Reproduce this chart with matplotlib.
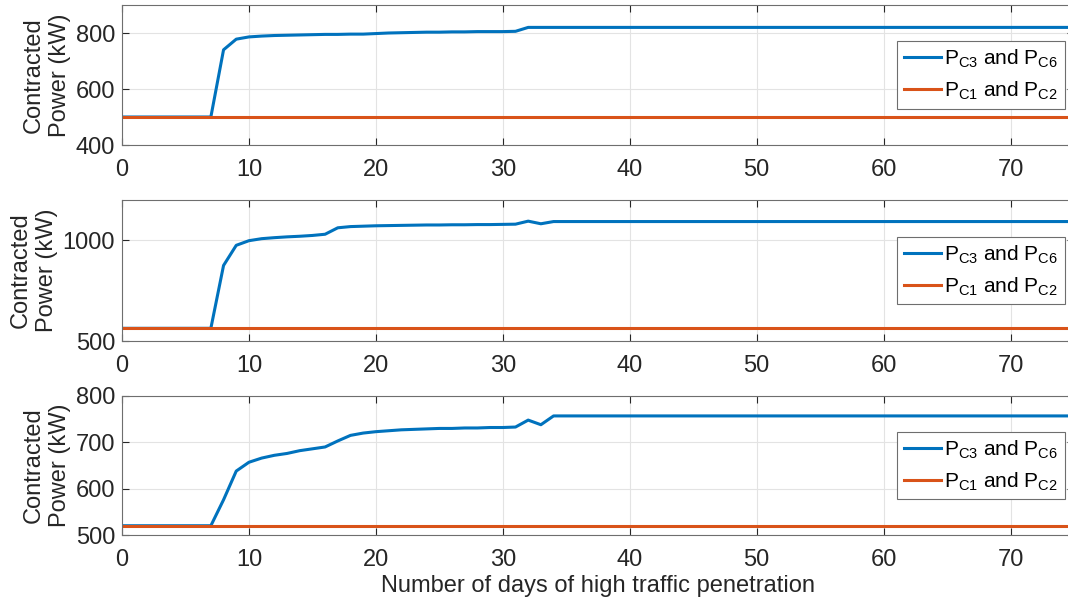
"""
Contracted power vs number of days of high traffic penetration (3 panels).
"""

import numpy as np
import matplotlib
matplotlib.use("Agg")
import matplotlib.pyplot as plt

plt.rcParams["font.family"] = ["Liberation Sans", "DejaVu Sans"]
plt.rcParams["mathtext.fontset"] = "custom"
plt.rcParams["mathtext.rm"] = "Liberation Sans"

days = np.arange(0, 76)

# panel 1 (P_C3/P_C6), days 0..32, then flat
p1_head = [500, 500, 500, 500, 500, 500, 500, 500, 740, 778, 786, 789, 791,
           792, 793, 794, 795, 795, 796, 796, 798, 800, 801, 802, 803, 803,
           804, 804, 805, 805, 805, 806, 820]
p1_tail = 820
p1_base = 500

p2_head = [563, 563, 563, 563, 563, 563, 563, 563, 875, 975, 998, 1008, 1013,
           1017, 1020, 1024, 1030, 1062, 1068, 1070, 1072, 1073, 1074, 1075,
           1076, 1076, 1077, 1077, 1078, 1078, 1079, 1080, 1095, 1082, 1093]
p2_tail = 1093
p2_base = 563

p3_head = [520, 520, 520, 520, 520, 520, 520, 520, 576, 638, 657, 666, 672,
           676, 682, 686, 690, 703, 715, 720, 723, 725, 727, 728, 729, 730,
           730, 731, 731, 732, 732, 733, 748, 738, 757]
p3_tail = 757
p3_base = 520

panels = [
    (p1_head, p1_tail, p1_base, (400, 900), [400, 600, 800]),
    (p2_head, p2_tail, p2_base, (500, 1200), [500, 1000]),
    (p3_head, p3_tail, p3_base, (500, 800), [500, 600, 700, 800]),
]

BLUE = "#0072BD"
ORANGE = "#D95319"
TXT = "#262626"
FS = 17

W, H = 1068, 604
fig = plt.figure(figsize=(W / 100, H / 100), dpi=100)
# top/bottom pixel rows of each axes
rows = [(5, 145), (200, 341), (396, 535)]
left_px, right_px = 122, 1074

for i, ((head, tail, base, ylim, yticks), (top, bot)) in enumerate(zip(panels, rows)):
    ax = fig.add_axes([left_px / W, 1 - bot / H, (right_px - left_px) / W, (bot - top) / H])
    vals = np.array(head + [tail] * (len(days) - len(head)), dtype=float)
    ax.plot(days, vals, color=BLUE, lw=2.2, label=r"P$_{\mathregular{C3}}$ and P$_{\mathregular{C6}}$")
    ax.plot(days, np.full(len(days), base), color=ORANGE, lw=2.2,
            label=r"P$_{\mathregular{C1}}$ and P$_{\mathregular{C2}}$")
    ax.set_xlim(0, 75)
    ax.set_ylim(*ylim)
    ax.set_xticks(range(0, 71, 10))
    ax.set_yticks(yticks)
    ax.grid(True, color="#e3e3e3", lw=0.8)
    ax.set_axisbelow(True)
    ax.tick_params(direction="in", top=True, right=True, length=5, width=0.8,
                   labelsize=FS, colors=TXT)
    ax.tick_params(axis="x", pad=10)
    ax.tick_params(axis="y", pad=5)
    for s in ax.spines.values():
        s.set_color("#6e6e6e")
        s.set_linewidth(0.8)
    ax.set_ylabel("Contracted\nPower (kW)", fontsize=FS, color=TXT, linespacing=1.28, labelpad=3)
    leg = ax.legend(loc="center right", bbox_to_anchor=(1.0, 0.5), fontsize=15,
                    fancybox=False, framealpha=1, edgecolor="#6e6e6e",
                    handlelength=1.8, handletextpad=0.15, borderpad=0.3,
                    labelspacing=0.45, borderaxespad=0.45)
    leg.get_frame().set_linewidth(0.8)
    if i == 2:
        ax.set_xlabel("Number of days of high traffic penetration", fontsize=FS, color=TXT, labelpad=3)

fig.savefig("out.png", dpi=100)
